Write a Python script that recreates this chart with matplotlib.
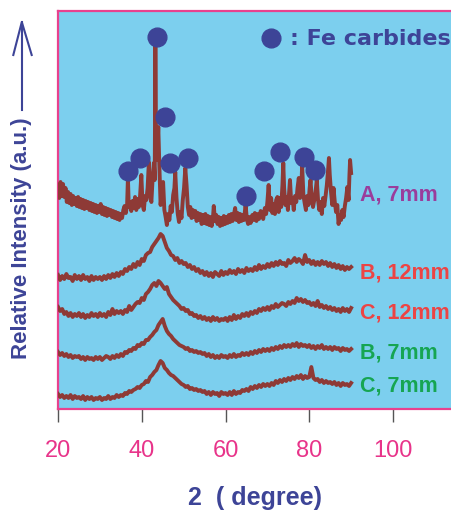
import numpy as np
import matplotlib
matplotlib.use("Agg")
import matplotlib.pyplot as plt
from matplotlib.lines import Line2D

# ---------------- data ----------------
xticks = [20, 40, 60, 80, 100]

# curve A (7mm) - explicit 2theta / intensity pairs
A_x = [20.0, 20.3, 20.6, 20.9, 21.2, 21.5, 21.8, 22.1, 22.4, 22.7, 23.0, 23.3, 23.6, 23.9, 24.2, 24.5, 24.8,
       25.1, 25.4, 25.7, 26.0, 26.3, 26.6, 26.9, 27.2, 27.5, 27.8, 28.1, 28.4, 28.7, 29.0, 29.3, 29.6, 29.9,
       30.2, 30.5, 30.8, 31.1, 31.4, 31.7, 32.0, 32.3, 32.6, 32.9, 33.2, 33.5, 33.8, 34.1, 34.4, 34.7, 35.0,
       35.3, 35.6, 35.9, 36.2, 36.5, 36.7, 36.9, 37.2, 37.5, 37.8, 38.1, 38.4, 38.7, 39.0, 39.3, 39.6, 39.9,
       40.2, 40.5, 40.8, 41.1, 41.4, 41.7, 42.0, 42.3, 42.6, 42.9, 43.1, 43.25, 43.45, 43.7, 43.95, 44.2,
       44.5, 44.8, 45.1, 45.4, 45.7, 46.0, 46.3, 46.6, 46.9, 47.2, 47.5, 47.8, 48.0, 48.3, 48.6, 48.9, 49.2,
       49.5, 49.8, 50.1, 50.4, 50.7, 51.0, 51.3, 51.6, 51.9, 52.2, 52.5, 52.8, 53.1, 53.4, 53.7, 54.0, 54.3,
       54.6, 54.9, 55.2, 55.5, 55.8, 56.1, 56.4, 56.7, 57.0, 57.2, 57.5, 57.8, 58.1, 58.4, 58.7, 59.0, 59.3,
       59.6, 59.9, 60.2, 60.5, 60.8, 61.1, 61.4, 61.7, 62.0, 62.3, 62.6, 62.9, 63.2, 63.5, 63.8, 64.1, 64.4,
       64.8, 65.1, 65.4, 65.7, 66.0, 66.4, 66.7, 67.0, 67.4, 67.7, 68.0, 68.4, 68.7, 69.0, 69.4, 69.7, 70.0,
       70.3, 70.6, 70.9, 71.2, 71.5, 71.8, 72.1, 72.4, 72.7, 73.0, 73.3, 73.6, 73.8, 74.0, 74.3, 74.6, 74.9,
       75.2, 75.4, 75.7, 76.0, 76.3, 76.6, 76.9, 77.2, 77.5, 77.8, 78.1, 78.3, 78.6, 78.9, 79.2, 79.5, 79.8,
       80.1, 80.3, 80.6, 80.9, 81.2, 81.5, 81.8, 82.1, 82.4, 82.7, 83.0, 83.3, 83.6, 83.9, 84.2, 84.5, 84.7,
       84.9, 85.2, 85.5, 85.8, 86.1, 86.4, 86.7, 87.0, 87.3, 87.6, 87.9, 88.2, 88.5, 88.8, 89.1, 89.4, 89.6,
       89.75, 90.0]
A_y = [225, 212, 228, 214, 226, 213, 222, 208, 218, 207, 216, 205, 214, 206, 212, 204, 213,
       203, 211, 202, 210, 201, 209, 202, 208, 200, 207, 199, 206, 198, 205, 197, 204, 198,
       206, 196, 203, 195, 202, 194, 201, 195, 200, 193, 199, 192, 198, 191, 197, 190, 196,
       192, 200, 204, 197, 205, 232, 203, 208, 199, 209, 202, 213, 200, 211, 203, 214, 235,
       205, 200, 214, 210, 222, 248, 214, 208, 232, 247, 230, 366, 250, 255, 283, 245,
       205, 218, 228, 200, 193, 185, 196, 190, 204, 198, 215, 222, 238, 212, 196, 188, 198,
       192, 210, 222, 242, 225, 203, 195, 203, 192, 200, 193, 199, 189, 197, 190, 196, 186,
       195, 187, 196, 186, 194, 185, 193, 184, 192, 204, 189, 195, 186, 193, 184, 192, 185,
       194, 186, 193, 187, 195, 188, 196, 189, 195, 202, 190, 197, 188, 196, 189, 195, 190,
       205, 191, 186, 193, 187, 195, 190, 197, 189, 196, 191, 199, 198, 191, 202, 196, 208,
       225, 200, 212, 197, 206, 196, 210, 213, 198, 212, 203, 225, 247, 222, 205, 213, 200,
       218, 230, 207, 212, 200, 214, 208, 222, 232, 212, 220, 245, 215, 207, 200, 214, 205,
       222, 230, 212, 203, 210, 218, 230, 210, 200, 208, 196, 212, 204, 214, 225, 240, 252,
       235, 218, 205, 222, 208, 198, 205, 186, 195, 190, 200, 193, 204, 212, 223, 210, 235,
       250, 237]

# curves B/C sampled every 0.5 degree from 20 to 90
B12_y = [135, 130, 134, 131, 136, 132, 133, 129, 135, 131,
         134, 130, 135, 131, 133, 129, 134, 130, 133, 131,
         133, 130, 134, 131, 135, 132, 136, 133, 137, 134,
         138, 136, 141, 139, 143, 141, 146, 143, 148, 145,
         151, 149, 155, 157, 158, 163, 166, 169, 172, 176,
         174, 168, 162, 159, 155, 154, 150, 152, 147, 149,
         146, 147, 143, 145, 141, 143, 139, 141, 137, 139,
         135, 138, 134, 137, 133, 138, 136, 134, 139, 135,
         138, 136, 140, 137, 139, 136, 141, 138, 140, 137,
         142, 139, 141, 139, 143, 140, 145, 141, 144, 142,
         146, 143, 147, 144, 148, 145, 149, 146, 147, 144,
         150, 147, 149, 152, 148, 151, 149, 146, 155, 148,
         150, 146, 149, 145, 148, 145, 149, 146, 148, 144,
         147, 143, 146, 142, 145, 141, 144, 140, 143, 141,
         143]
C12_y = [103, 99, 101, 96, 98, 94, 97, 93, 96, 94,
         97, 93, 96, 92, 95, 93, 97, 94, 96, 93,
         97, 94, 96, 93, 98, 95, 101, 96, 99, 97,
         99, 96, 100, 98, 104, 100, 103, 106, 108, 107,
         112, 110, 116, 118, 121, 125, 127, 124, 129, 127,
         124, 121, 123, 116, 113, 110, 108, 106, 104, 101,
         102, 99, 100, 96, 97, 94, 95, 92, 94, 91,
         93, 90, 92, 89, 93, 90, 92, 89, 91, 90,
         92, 89, 93, 90, 95, 91, 94, 92, 96, 94,
         97, 94, 98, 96, 99, 97, 101, 99, 102, 100,
         103, 100, 104, 102, 106, 103, 105, 107, 106, 104,
         108, 106, 109, 107, 112, 109, 111, 108, 110, 107,
         108, 105, 107, 104, 109, 103, 105, 102, 104, 101,
         103, 100, 102, 99, 101, 98, 102, 99, 101, 98,
         102]
B7_y = [58, 55, 57, 54, 56, 53, 55, 52, 54, 53,
        54, 51, 53, 50, 53, 51, 52, 50, 53, 51,
        53, 50, 52, 54, 53, 51, 54, 52, 55, 53,
        56, 54, 58, 57, 60, 59, 62, 61, 65, 64,
        67, 66, 70, 70, 73, 75, 78, 80, 85, 88,
        91, 84, 79, 76, 74, 71, 69, 67, 65, 64,
        63, 61, 62, 59, 60, 58, 59, 57, 58, 56,
        57, 54, 56, 53, 55, 52, 54, 52, 55, 53,
        54, 52, 55, 53, 56, 53, 55, 54, 57, 55,
        57, 55, 58, 56, 59, 57, 60, 58, 61, 59,
        61, 59, 62, 60, 63, 61, 64, 62, 65, 63,
        65, 63, 66, 64, 67, 63, 66, 64, 65, 63,
        65, 62, 64, 61, 64, 62, 65, 61, 63, 61,
        63, 60, 63, 61, 62, 59, 62, 60, 61, 59,
        61]
C7_y = [16, 13, 15, 12, 14, 12, 15, 11, 14, 12,
        13, 11, 14, 10, 13, 11, 13, 10, 12, 11,
        13, 10, 12, 11, 14, 11, 13, 12, 15, 13,
        15, 14, 17, 16, 19, 18, 20, 21, 23, 22,
        25, 26, 29, 28, 33, 35, 38, 40, 45, 49,
        47, 42, 40, 37, 35, 34, 32, 30, 28, 26,
        25, 23, 24, 21, 22, 20, 21, 19, 20, 18,
        19, 16, 18, 15, 18, 16, 17, 14, 18, 16,
        17, 15, 18, 15, 19, 16, 18, 17, 20, 19,
        21, 19, 23, 21, 24, 22, 25, 23, 26, 24,
        26, 24, 27, 25, 29, 27, 30, 28, 31, 29,
        32, 30, 33, 31, 34, 32, 35, 31, 34, 32,
        33, 43, 32, 30, 31, 28, 30, 27, 29, 27,
        28, 26, 28, 25, 27, 24, 27, 25, 26, 24,
        27]

# Fe carbide markers (2theta, intensity)
dot_x = [36.72, 39.65, 43.71, 45.55, 46.75, 51.12, 64.9, 69.12, 73.0, 78.68, 81.37]
dot_y = [239, 252, 373, 293, 247, 252, 214, 239, 258, 253, 240]

labels = ["A, 7mm", "B, 12mm", "C, 12mm", "B, 7mm", "C, 7mm"]
label_y = [215, 137.5, 97.5, 57.5, 24]
label_colors = ["#9a3d9c", "#ec4444", "#ec4444", "#16a552", "#16a552"]

# ---------------- style ----------------
W, H = 451, 511
fig = plt.figure(figsize=(W / 100, H / 100), dpi=100)
bg = "#7ccfee"
curve_c = "#8e3a36"
navy = "#3d4497"
pink = "#e8418e"

left_px, right_px, top_px, bot_px = 58, 460, 11, 409
ax = fig.add_axes([left_px / W, (H - bot_px) / H, (right_px - left_px) / W, (bot_px - top_px) / H])
ax.set_facecolor(bg)
ax.set_xlim(20, 20 + (right_px - left_px) / 4.1875)
ax.set_ylim(410 - bot_px, 410 - top_px)

for s in ax.spines.values():
    s.set_color(pink)
    s.set_linewidth(1.6)
ax.spines["right"].set_visible(False)

ax.set_xticks(xticks)
ax.set_xticklabels([str(t) for t in xticks])
ax.tick_params(axis="x", direction="out", length=9.5, width=1.0, color="#555555",
               labelcolor="#e8348a", labelsize=17, pad=13)
for lbl in ax.get_xticklabels():
    lbl.set_family("Liberation Sans")
ax.set_yticks([])

grid = np.arange(20, 90.01, 0.5)
lw = 2.8
ax.plot(A_x, A_y, color=curve_c, lw=lw, zorder=3)
for ys in (B12_y, C12_y, B7_y, C7_y):
    ax.plot(grid, ys, color=curve_c, lw=lw, zorder=3)

ax.plot(dot_x, dot_y, "o", ms=13.5, color=navy, mec=navy, zorder=5)

# legend-like annotation
ax.plot([70.8], [371.7], "o", ms=13.5, color=navy, mec=navy, zorder=5)
ax.text(75.4, 371, ": Fe carbides", color=navy, fontsize=16, fontweight="bold",
        family="DejaVu Sans", va="center", ha="left")

for t, yv, c in zip(labels, label_y, label_colors):
    ax.text(92.1, yv, t, color=c, fontsize=15.5, fontweight="bold",
            family="Liberation Sans", va="center", ha="left")

# axis titles
fig.text(255.5 / W, (H - 498) / H, "2  ( degree)", color=navy, fontsize=18,
         fontweight="bold", family="Liberation Sans", ha="center", va="center")
fig.text(22 / W, (H - 238.5) / H, "Relative Intensity (a.u.)", color=navy, fontsize=16,
         fontweight="bold", family="Liberation Sans", ha="center", va="center", rotation=90)

# arrow next to the y label
def fx(px):
    return px / W

def fy(py):
    return (H - py) / H

fig.add_artist(Line2D([fx(22), fx(22)], [fy(110), fy(22)], color=navy, lw=1.5,
                      transform=fig.transFigure))
fig.add_artist(Line2D([fx(13.3), fx(21.8), fx(31.7)], [fy(55), fy(22), fy(55)], color=navy, lw=1.5,
                      transform=fig.transFigure, solid_joinstyle="miter"))

fig.savefig("out.png", dpi=100)
